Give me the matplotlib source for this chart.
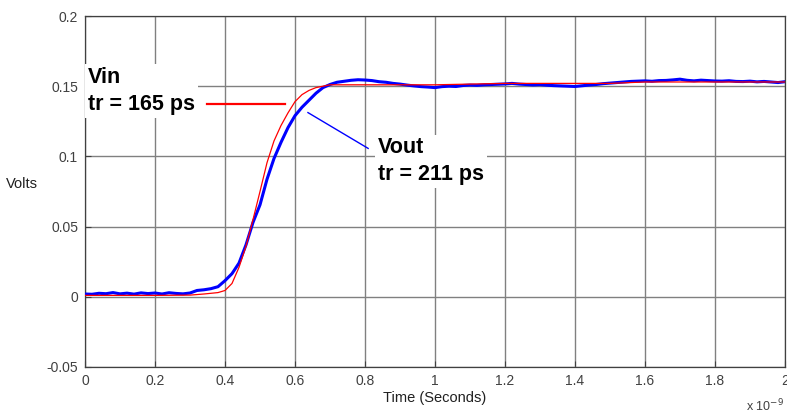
"""
Rise time comparison of input and output step (Vin / Vout), MATLAB style plot
"""
import matplotlib
matplotlib.use("Agg")
import matplotlib.pyplot as plt

# time axis in ns (shown as x 10^-9 seconds)
t_out = [0.00, 0.02, 0.04, 0.06, 0.08, 0.10, 0.12, 0.14, 0.16, 0.18,
         0.20, 0.22, 0.24, 0.26, 0.28, 0.30, 0.32, 0.34, 0.36, 0.38,
         0.40, 0.42, 0.44, 0.46, 0.48, 0.50, 0.52, 0.54, 0.56, 0.58,
         0.60, 0.62, 0.64, 0.66, 0.68, 0.70, 0.72, 0.74, 0.76, 0.78,
         0.80, 0.82, 0.84, 0.86, 0.88, 0.90, 0.92, 0.94, 0.96, 0.98,
         1.00, 1.02, 1.04, 1.06, 1.08, 1.10, 1.12, 1.14, 1.16, 1.18,
         1.20, 1.22, 1.24, 1.26, 1.28, 1.30, 1.32, 1.34, 1.36, 1.38,
         1.40, 1.42, 1.44, 1.46, 1.48, 1.50, 1.52, 1.54, 1.56, 1.58,
         1.60, 1.62, 1.64, 1.66, 1.68, 1.70, 1.72, 1.74, 1.76, 1.78,
         1.80, 1.82, 1.84, 1.86, 1.88, 1.90, 1.92, 1.94, 1.96, 1.98,
         2.00]
v_out = [0.0020, 0.0018, 0.0025, 0.0022, 0.0030, 0.0021, 0.0026, 0.0019, 0.0028, 0.0023,
         0.0027, 0.0020, 0.0029, 0.0024, 0.0021, 0.0027, 0.0045, 0.0050, 0.0058, 0.0072,
         0.0115, 0.0165, 0.0240, 0.0370, 0.0530, 0.0655, 0.0837, 0.0985, 0.1100, 0.1205,
         0.1290, 0.1350, 0.1400, 0.1450, 0.1490, 0.1512, 0.1528, 0.1535, 0.1542, 0.1546,
         0.1544, 0.1540, 0.1532, 0.1528, 0.1520, 0.1515, 0.1508, 0.1502, 0.1497, 0.1494,
         0.1490, 0.1497, 0.1500, 0.1498, 0.1505, 0.1508, 0.1506, 0.1510, 0.1512, 0.1514,
         0.1516, 0.1520, 0.1515, 0.1512, 0.1509, 0.1511, 0.1507, 0.1504, 0.1502, 0.1500,
         0.1498, 0.1503, 0.1508, 0.1512, 0.1518, 0.1522, 0.1526, 0.1530, 0.1534, 0.1536,
         0.1538, 0.1535, 0.1540, 0.1541, 0.1545, 0.1550, 0.1542, 0.1538, 0.1543, 0.1540,
         0.1537, 0.1536, 0.1539, 0.1534, 0.1533, 0.1536, 0.1531, 0.1534, 0.1530, 0.1526,
         0.1532]

t_in = [0.00, 0.10, 0.20, 0.30, 0.34, 0.38, 0.40, 0.42, 0.44, 0.46, 0.48, 0.50,
        0.52, 0.54, 0.56, 0.58, 0.60, 0.62, 0.64, 0.66, 0.68, 0.70, 0.75, 0.80,
        1.00, 1.20, 1.50, 1.60, 2.00]
v_in = [0.0010, 0.0010, 0.0010, 0.0012, 0.0020, 0.0030, 0.0045, 0.0095, 0.0210, 0.0360,
        0.0550, 0.0750, 0.0955, 0.1110, 0.1220, 0.1310, 0.1390, 0.1440, 0.1470, 0.1490,
        0.1500, 0.1510, 0.1510, 0.1510, 0.1510, 0.1520, 0.1520, 0.1530, 0.1530]

x_ticks = [0, 0.2, 0.4, 0.6, 0.8, 1.0, 1.2, 1.4, 1.6, 1.8, 2.0]
x_labels = ['0', '0.2', '0.4', '0.6', '0.8', '1', '1.2', '1.4', '1.6', '1.8', '2']
y_ticks = [-0.05, 0, 0.05, 0.1, 0.15, 0.2]
y_labels = ['-0.05', '0', '0.05', '0.1', '0.15', '0.2']

plt.rcParams['font.family'] = ['Liberation Sans', 'DejaVu Sans']

fig = plt.figure(figsize=(7.87, 4.17), dpi=100)
ax = fig.add_axes([85 / 787, 50 / 417, 700 / 787, 351 / 417])

ax.plot(t_out, v_out, color='#0000ff', lw=2.2, zorder=3)
ax.plot(t_in, v_in, color='#ff0000', lw=0.9, zorder=4)

ax.set_xlim(0, 2)
ax.set_ylim(-0.05, 0.2)
ax.set_xticks(x_ticks)
ax.set_xticklabels(x_labels)
ax.set_yticks(y_ticks)
ax.set_yticklabels(y_labels)
ax.tick_params(direction='in', length=4, labelsize=10, colors='#404040',
               labelcolor='#404040', pad=5)
ax.grid(True, color='#808080', lw=1.0, ls='-')
ax.set_axisbelow(True)
for s in ax.spines.values():
    s.set_color('#404040')
    s.set_linewidth(0.9)

# axis labels
ax.set_xlabel('Time (Seconds)', fontsize=10.5, color='#202020', labelpad=2)
ax.set_ylabel('Volts', fontsize=10.5, color='#202020', rotation=0)
ax.yaxis.set_label_coords(-0.09, 0.5)
fig.text(784 / 787, 1 - 411 / 417, r'x 10$^{-9}$', fontsize=9, color='#404040',
         ha='right')

# annotations
box = dict(facecolor='white', edgecolor='none', pad=2)
ax.text(0.009, 0.1635, 'Vin\ntr = 165 ps', fontsize=15.5, fontweight='bold',
        va='top', ha='left', linespacing=1.35, bbox=box, zorder=5)
ax.text(0.837, 0.1135, 'Vout\ntr = 211 ps', fontsize=15.5, fontweight='bold',
        va='top', ha='left', linespacing=1.35, bbox=box, zorder=5)
ax.plot([0.349, 0.571], [0.1376, 0.1376], color='#ff0000', lw=1.6, zorder=5)
ax.plot([0.637, 0.809], [0.1312, 0.1057], color='#0000ff', lw=1.0, zorder=5)

fig.savefig('out.png', dpi=100)
